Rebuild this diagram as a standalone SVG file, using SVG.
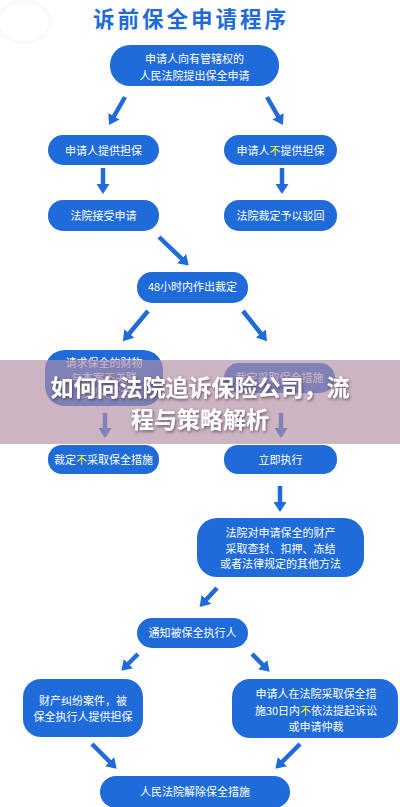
<svg xmlns="http://www.w3.org/2000/svg" width="400" height="807" viewBox="0 0 400 807">
<defs>
<style>
.node{fill:#1f6bd9}
.t{font-family:"Noto Sans CJK SC","Noto Sans",sans-serif;font-size:11px;fill:#ffffff;text-anchor:middle}
.y{fill:#f2f23a}
.title{font-family:"Noto Sans CJK SC",sans-serif;font-size:21.5px;font-weight:bold;fill:#1f6bd9;text-anchor:middle;letter-spacing:3px}
.ov{font-family:"Noto Sans CJK SC",sans-serif;font-size:23px;font-weight:bold;fill:#ffffff;text-anchor:middle}
.c line{stroke:#1f6bd9;stroke-width:4.5;marker-end:url(#ah)}
</style>
<marker id="ah" markerUnits="userSpaceOnUse" markerWidth="14" markerHeight="14" viewBox="0 0 14 14" refX="2" refY="7" orient="auto">
<path d="M0,0.5 L10,7 L0,13.5 Z" fill="#1f6bd9"/>
</marker>
<filter id="sh" x="-10%" y="-30%" width="120%" height="160%">
<feDropShadow dx="1" dy="1.5" stdDeviation="1.5" flood-color="#3a2a3a" flood-opacity="0.7"/>
</filter>
</defs>
<rect width="400" height="807" fill="#ffffff"/>
<ellipse cx="24" cy="22" rx="26" ry="21" fill="none" stroke="#f4f5f7" stroke-width="1.5"/>
<text class="title" x="191" y="27">诉前保全申请程序</text>

<g class="c" id="connectors">
<line x1="125" y1="97" x2="113" y2="118"/>
<line x1="267" y1="97" x2="279" y2="118"/>
<line x1="103" y1="168" x2="103" y2="186"/>
<line x1="282" y1="168" x2="282" y2="186"/>
<line x1="159" y1="237" x2="183" y2="260"/>
<line x1="148" y1="311" x2="128" y2="335"/>
<line x1="243" y1="311" x2="262" y2="335"/>
<line x1="105" y1="413" x2="105" y2="430"/>
<line x1="281" y1="413" x2="281" y2="430"/>
<line x1="280" y1="486" x2="280" y2="504"/>
<line x1="217" y1="588" x2="205" y2="601"/>
<line x1="138" y1="654" x2="127" y2="665"/>
<line x1="252" y1="654" x2="264" y2="666"/>
<line x1="92" y1="744" x2="111" y2="763"/>
<line x1="300" y1="744" x2="281" y2="763"/>
</g>

<g id="n1"><rect class="node" x="110" y="45" width="169" height="41" rx="20"/>
<text class="t" x="194.5" y="63">申请人向有管辖权的</text><text class="t" x="194.5" y="80">人民法院提出保全申请</text></g>
<g id="n2"><rect class="node" x="48" y="135" width="111" height="30" rx="15"/>
<text class="t" x="103.5" y="155">申请人提供担保</text></g>
<g id="n3"><rect class="node" x="224" y="135" width="113" height="30" rx="15"/>
<text class="t" x="280.5" y="155">申请人<tspan class="y">不</tspan>提供担保</text></g>
<g id="n4"><rect class="node" x="48" y="200" width="111" height="31" rx="15"/>
<text class="t" x="103.5" y="220">法院接受申请</text></g>
<g id="n5"><rect class="node" x="224" y="200" width="113" height="31" rx="15"/>
<text class="t" x="280.5" y="220">法院裁定予以驳回</text></g>
<g id="n6"><rect class="node" x="137" y="272" width="111" height="31" rx="15"/>
<text class="t" x="192.5" y="291">48小时内作出裁定</text></g>
<g id="n7"><rect class="node" x="45" y="350" width="118" height="56" rx="20"/>
<text class="t" x="104" y="367">请求保全的财物</text><text class="t" x="104" y="382">与本案<tspan class="y">不</tspan>关联</text><text class="t" x="104" y="397">或已被保全</text></g>
<g id="n8"><rect class="node" x="224" y="363" width="111" height="30" rx="15"/>
<text class="t" x="279.5" y="382">裁定采取保全措施</text></g>
<g id="n9"><rect class="node" x="48" y="445" width="111" height="29" rx="14"/>
<text class="t" x="103.5" y="463.5">裁定<tspan class="y">不</tspan>采取保全措施</text></g>
<g id="n10"><rect class="node" x="224" y="445" width="113" height="29" rx="14"/>
<text class="t" x="280.5" y="463.5">立即执行</text></g>
<g id="n11"><rect class="node" x="197" y="518" width="167" height="59" rx="20"/>
<text class="t" x="280.5" y="537">法院对申请保全的财产</text><text class="t" x="280.5" y="553">采取查封、扣押、冻结</text><text class="t" x="280.5" y="568">或者法律规定的其他方法</text></g>
<g id="n12"><rect class="node" x="137" y="618" width="111" height="30" rx="15"/>
<text class="t" x="192.5" y="637">通知被保全执行人</text></g>
<g id="n13"><rect class="node" x="23" y="679" width="120" height="58" rx="18"/>
<text class="t" x="83" y="705">财产纠纷案件，被</text><text class="t" x="83" y="721">保全执行人提供担保</text></g>
<g id="n14"><rect class="node" x="232" y="679" width="166" height="59" rx="18"/>
<text class="t" x="316" y="698">申请人在法院采取保全措</text><text class="t" x="316" y="715">施30日内<tspan class="y">不</tspan>依法提起诉讼</text><text class="t" x="316" y="731">或申请仲裁</text></g>
<g id="n15"><rect class="node" x="100" y="776" width="190" height="32" rx="16"/>
<text class="t" x="195" y="796">人民法院解除保全措施</text></g>

<g id="overlay">
<rect x="0" y="360" width="400" height="84" fill="#b38da4" fill-opacity="0.66"/>
<g filter="url(#sh)">
<text class="ov" x="200" y="396">如何向法院追诉保险公司，流</text>
<text class="ov" x="200" y="428">程与策略解析</text>
</g>
</g>
</svg>
